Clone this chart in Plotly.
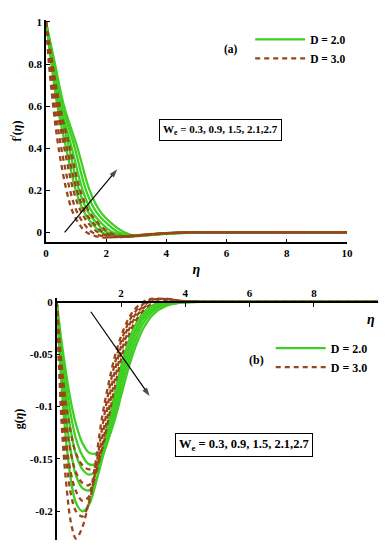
import plotly.graph_objects as go

# ---------------- data: panel (a) f'(eta) ----------------
# f' levels at which eta positions were read for the falling part
fp_levels = [1.0, 0.8, 0.6, 0.4, 0.2, 0.1, 0.04, 0.0]

# D = 2.0 (solid), We = 0.3 ... 2.7
fp_eta_D2 = [
    [0, 0.18, 0.38, 0.67, 0.99, 1.25, 1.54, 1.85, 2.35, 2.8, 3.3, 3.8, 4.3, 5.0, 10],
    [0, 0.21, 0.44, 0.77, 1.10, 1.39, 1.71, 2.04, 2.5, 2.95, 3.4, 3.9, 4.4, 5.0, 10],
    [0, 0.24, 0.49, 0.86, 1.22, 1.52, 1.87, 2.22, 2.7, 3.1, 3.5, 4.0, 4.5, 5.2, 10],
    [0, 0.27, 0.55, 0.96, 1.33, 1.66, 2.04, 2.41, 2.85, 3.2, 3.6, 4.1, 4.6, 5.3, 10],
    [0, 0.30, 0.60, 1.05, 1.45, 1.80, 2.20, 2.60, 3.0, 3.35, 3.7, 4.2, 4.7, 5.4, 10],
]
fp_tail_D2 = [
    [-0.021, -0.018, -0.012, -0.006, -0.002, 0, 0],
    [-0.020, -0.017, -0.012, -0.006, -0.002, 0, 0],
    [-0.019, -0.016, -0.011, -0.006, -0.002, 0, 0],
    [-0.018, -0.015, -0.011, -0.006, -0.002, 0, 0],
    [-0.017, -0.014, -0.010, -0.005, -0.002, 0, 0],
]
# D = 3.0 (dashed)
fp_eta_D3 = [
    [0, 0.10, 0.24, 0.42, 0.68, 0.88, 1.10, 1.35, 1.85, 2.4, 3.0, 3.6, 4.2, 5.0, 10],
    [0, 0.13, 0.29, 0.51, 0.80, 1.02, 1.27, 1.54, 2.05, 2.6, 3.1, 3.6, 4.2, 5.0, 10],
    [0, 0.16, 0.35, 0.61, 0.91, 1.16, 1.43, 1.73, 2.25, 2.7, 3.2, 3.7, 4.3, 5.0, 10],
    [0, 0.19, 0.40, 0.70, 1.03, 1.29, 1.60, 1.91, 2.4, 2.85, 3.3, 3.8, 4.3, 5.0, 10],
    [0, 0.22, 0.46, 0.80, 1.14, 1.43, 1.76, 2.10, 2.6, 3.0, 3.4, 3.9, 4.4, 5.0, 10],
]
fp_tail_D3 = [
    [-0.024, -0.020, -0.014, -0.007, -0.002, 0, 0],
    [-0.023, -0.019, -0.013, -0.007, -0.002, 0, 0],
    [-0.022, -0.019, -0.013, -0.007, -0.002, 0, 0],
    [-0.021, -0.018, -0.012, -0.006, -0.002, 0, 0],
    [-0.020, -0.017, -0.012, -0.006, -0.002, 0, 0],
]

# ---------------- data: panel (b) g(eta) ----------------
g_eta = [0, 0.15, 0.3, 0.45, 0.6, 0.8, 1.0, 1.2, 1.4, 1.6, 1.8, 2.0, 2.2, 2.4,
         2.7, 3.0, 3.4, 3.8, 4.5, 5.5, 7, 10]
g_D2 = [
    [0, -0.038, -0.070, -0.097, -0.117, -0.135, -0.144, -0.145, -0.142, -0.131, -0.113, -0.090, -0.067, -0.047, -0.025, -0.012, -0.004, -0.001, 0, 0, 0, 0],
    [0, -0.046, -0.082, -0.110, -0.131, -0.147, -0.155, -0.155, -0.148, -0.132, -0.109, -0.083, -0.060, -0.041, -0.020, -0.009, -0.003, -0.001, 0, 0, 0, 0],
    [0, -0.055, -0.095, -0.125, -0.146, -0.160, -0.165, -0.162, -0.150, -0.129, -0.102, -0.076, -0.053, -0.035, -0.016, -0.007, -0.002, 0, 0, 0, 0, 0],
    [0, -0.065, -0.112, -0.145, -0.166, -0.178, -0.180, -0.172, -0.152, -0.124, -0.095, -0.069, -0.047, -0.030, -0.013, -0.005, -0.001, 0, 0, 0, 0, 0],
    [0, -0.080, -0.135, -0.172, -0.192, -0.200, -0.194, -0.175, -0.148, -0.117, -0.088, -0.062, -0.041, -0.025, -0.010, -0.003, 0, 0, 0, 0, 0, 0],
]
g_D3 = [
    [0, -0.060, -0.100, -0.127, -0.145, -0.156, -0.160, -0.157, -0.142, -0.113, -0.082, -0.055, -0.035, -0.021, -0.008, -0.001, 0.002, 0.001, 0, 0, 0, 0],
    [0, -0.072, -0.118, -0.146, -0.163, -0.173, -0.175, -0.165, -0.140, -0.106, -0.075, -0.049, -0.030, -0.017, -0.006, 0.001, 0.003, 0.001, 0, 0, 0, 0],
    [0, -0.085, -0.135, -0.165, -0.181, -0.190, -0.186, -0.165, -0.132, -0.097, -0.067, -0.043, -0.026, -0.014, -0.004, 0.002, 0.003, 0.001, 0, 0, 0, 0],
    [0, -0.100, -0.152, -0.185, -0.200, -0.205, -0.192, -0.162, -0.123, -0.088, -0.060, -0.038, -0.022, -0.011, -0.002, 0.003, 0.003, 0.001, 0, 0, 0, 0],
    [0, -0.115, -0.175, -0.212, -0.226, -0.215, -0.190, -0.155, -0.112, -0.080, -0.053, -0.033, -0.018, -0.008, 0.000, 0.004, 0.003, 0.001, 0, 0, 0, 0],
]

# "increasing We" arrows (tail -> head), in data units of each panel
arrow_a_eta = [0.62, 2.37]
arrow_a_val = [0.0, 0.30]
arrow_b_eta = [1.06, 2.89]
arrow_b_val = [-0.0095, -0.09]

legend_labels = ["D = 2.0", "D = 3.0"]
we_text = "W<sub>e</sub> = 0.3, 0.9, 1.5, 2.1,2.7"
fp_ticks = [0, 0.2, 0.4, 0.6, 0.8, 1]
fp_ticktext = ["0", "0.2", "0.4", "0.6", "0.8", "1"]
g_ticks = [0, -0.05, -0.1, -0.15, -0.2]
g_ticktext = ["0", "-0.05", "-0.1", "-0.15", "-0.2"]

# ---------------- styling ----------------
W, H = 392, 550
GREEN = "#3fcf22"
BROWN = "#99461a"
FONT = "Liberation Serif"
LW = 2.3
DASH = "5px,4px"


def px(xp):
    return xp / W


def py(yp):
    return 1 - yp / H


fig = go.Figure()

# panel (a)
for i, (etas, tail) in enumerate(zip(fp_eta_D2, fp_tail_D2)):
    fig.add_trace(go.Scatter(
        x=etas, y=fp_levels + tail, mode="lines", line=dict(color=GREEN, width=LW, shape="spline"),
        name=legend_labels[0], legendgroup="a2", showlegend=(i == 0), legend="legend",
        xaxis="x", yaxis="y"))
for i, (etas, tail) in enumerate(zip(fp_eta_D3, fp_tail_D3)):
    fig.add_trace(go.Scatter(
        x=etas, y=fp_levels + tail, mode="lines",
        line=dict(color=BROWN, width=LW, dash=DASH, shape="spline"),
        name=legend_labels[1], legendgroup="a3", showlegend=(i == 0), legend="legend",
        xaxis="x", yaxis="y"))

# panel (b)
for i, vals in enumerate(g_D2):
    fig.add_trace(go.Scatter(
        x=g_eta, y=vals, mode="lines", line=dict(color=GREEN, width=LW, shape="spline"),
        name=legend_labels[0], legendgroup="b2", showlegend=(i == 0), legend="legend2",
        xaxis="x2", yaxis="y2"))
for i, vals in enumerate(g_D3):
    fig.add_trace(go.Scatter(
        x=g_eta, y=vals, mode="lines",
        line=dict(color=BROWN, width=LW, dash=DASH, shape="spline"),
        name=legend_labels[1], legendgroup="b3", showlegend=(i == 0), legend="legend2",
        xaxis="x2", yaxis="y2"))

# arrows
for ax_, ay_, xa, ya in [(arrow_a_eta, arrow_a_val, "x", "y"),
                         (arrow_b_eta, arrow_b_val, "x2", "y2")]:
    fig.add_trace(go.Scatter(
        x=ax_, y=ay_, mode="lines+markers", showlegend=False, hoverinfo="skip",
        line=dict(color="black", width=1.2),
        marker=dict(symbol="arrow", size=[0, 9], angleref="previous", color="black",
                    line=dict(width=0)),
        xaxis=xa, yaxis=ya))

tickfont = dict(family=FONT, size=11, color="black", weight="bold")
axis_common = dict(showgrid=False, zeroline=False, showline=True, linecolor="black",
                   linewidth=1.5, ticks="inside", ticklen=4, tickwidth=1.2,
                   tickcolor="black", tickfont=tickfont)
title_font = dict(family=FONT, size=12, color="black", weight="bold")

fig.update_layout(
    width=W, height=H,
    margin=dict(l=0, r=0, t=0, b=0),
    paper_bgcolor="white", plot_bgcolor="white",
    xaxis=dict(domain=[px(44), px(352)], range=[0, 10], tickvals=[0, 2, 4, 6, 8, 10],
               anchor="y",
               title=dict(text="<i>η</i>", font=dict(family=FONT, size=14, color="black",
                                                      weight="bold"), standoff=6),
               **axis_common),
    yaxis=dict(domain=[py(240), py(16)], range=[-0.047, 1.01], tickvals=fp_ticks,
               ticktext=fp_ticktext, anchor="x",
               title=dict(text="f<sup>/</sup>(<i>η</i>)", font=title_font, standoff=4),
               **axis_common),
    xaxis2=dict(domain=[px(55), px(384)], range=[0, 10], tickvals=[2, 4, 6, 8],
                side="top", anchor="free", position=py(300), **axis_common),
    yaxis2=dict(domain=[py(540), py(296)], range=[-0.2275, 0.0038], tickvals=g_ticks,
                ticktext=g_ticktext, anchor="x2",
                title=dict(text="g(<i>η</i>)", font=title_font, standoff=4),
                **axis_common),
    legend=dict(x=px(253), y=py(21), xanchor="left", yanchor="top",
                bgcolor="rgba(0,0,0,0)", tracegroupgap=0, itemwidth=50,
                font=dict(family=FONT, size=11.5, color="black", weight="bold")),
    legend2=dict(x=px(274), y=py(332), xanchor="left", yanchor="top",
                 bgcolor="rgba(0,0,0,0)", tracegroupgap=0, itemwidth=50,
                 font=dict(family=FONT, size=12, color="black", weight="bold")),
    showlegend=True,
)

bold = dict(family=FONT, color="black", weight="bold")
ann = [
    dict(text="(a)", x=px(233), y=py(46), font=dict(size=11.5, **bold)),
    dict(text="(b)", x=px(259), y=py(359), font=dict(size=12, **bold)),
    dict(text=we_text, x=px(223), y=py(127), font=dict(size=11, **bold),
         bordercolor="black", borderwidth=1, borderpad=3, bgcolor="white"),
    dict(text=we_text, x=px(246.5), y=py(444.5), font=dict(size=12.5, **bold),
         bordercolor="black", borderwidth=1, borderpad=3, bgcolor="white"),
    dict(text="<i>η</i>", x=px(377), y=py(318), font=dict(size=14, **bold)),
]
for a in ann:
    a.update(xref="paper", yref="paper", showarrow=False, xanchor="center", yanchor="middle")
    fig.add_annotation(**a)

fig.write_html("out.html", config={"displayModeBar": False},
               post_script="document.body.style.margin='0';document.body.style.overflow='hidden';")
